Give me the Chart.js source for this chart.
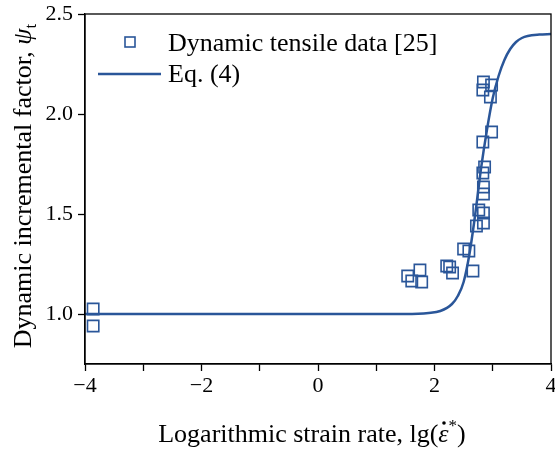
<!DOCTYPE html>
<html>
<head>
<meta charset="utf-8">
<script src="https://cdn.jsdelivr.net/npm/chart.js@4.4.0/dist/chart.umd.min.js"></script>
<style>
  html, body { margin: 0; padding: 0; background: #fff; }
  #wrap { width: 555px; height: 450px; }
</style>
</head>
<body>
<div id="wrap"><canvas id="chart" width="555" height="450"></canvas></div>
<script>
// Dynamic tensile data [25]
const dataX = [2.84, 2.98, 2.83, 2.96, 2.98, 2.83, 2.86, 2.83, 2.84, 2.84, 2.76, 2.84, 2.84,
               2.72, 2.50, 2.59, 2.66, 2.21, 2.26, 2.31, 1.54, 1.61, 1.75, 1.78, -3.86, -3.86];
const dataY = [2.16, 2.145, 2.12, 2.085, 1.91, 1.86, 1.735, 1.705, 1.635, 1.60, 1.52, 1.505, 1.455,
               1.44, 1.325, 1.315, 1.215, 1.24, 1.235, 1.205, 1.19, 1.165, 1.22, 1.16, 1.025, 0.94];

// Eq. (4) curve, sampled from the figure
const curveX = [-4, -2, 0, 1, 1.5, 1.9, 2.1, 2.3, 2.4, 2.5, 2.6, 2.7, 2.8, 2.9, 3.0, 3.1, 3.2, 3.3, 3.4, 3.5, 3.6, 3.8, 4];
const curveY = [1.0, 1.0, 1.0, 1.0, 1.0, 1.005, 1.015, 1.05, 1.09, 1.16, 1.3, 1.5, 1.73, 1.92, 2.08, 2.19, 2.27, 2.325, 2.36, 2.38, 2.39, 2.397, 2.4];

const xTicks = [-4, -3, -2, -1, 0, 1, 2, 3, 4];
const yTicks = [1.0, 1.5, 2.0, 2.5];

const BLUE = '#2a5699';
const FONT = '"Liberation Serif", "Times New Roman", serif';

// draw a run of text pieces with different fonts, centred on (cx, y)
function drawRuns(ctx, runs, cx, y) {
  let total = 0;
  runs.forEach(r => { ctx.font = r.font; r.w = ctx.measureText(r.text).width; total += r.w; });
  let x = cx - total / 2;
  runs.forEach(r => {
    ctx.font = r.font;
    ctx.fillText(r.text, x, y + (r.dy || 0));
    if (r.dot) {
      ctx.beginPath();
      ctx.arc(x + r.w * 0.55, y - 19, 1.8, 0, Math.PI * 2);
      ctx.fill();
    }
    x += r.w;
  });
}

const decorations = {
  id: 'decorations',
  afterDraw(chart) {
    const { ctx, chartArea: a } = chart;
    ctx.save();
    ctx.strokeStyle = '#000';
    ctx.lineWidth = 1.3;
    ctx.strokeRect(a.left, a.top, a.right - a.left, a.bottom - a.top);

    ctx.fillStyle = '#000';
    ctx.textBaseline = 'alphabetic';
    ctx.textAlign = 'left';

    // x axis title
    drawRuns(ctx, [
      { text: 'Logarithmic strain rate, lg(', font: '26px ' + FONT },
      { text: '\u03B5', font: 'italic 26px ' + FONT, dot: true },
      { text: '*', font: '17px ' + FONT, dy: -11 },
      { text: ')', font: '26px ' + FONT }
    ], 312, 442);

    // y axis title
    ctx.save();
    ctx.translate(31, 186);
    ctx.rotate(-Math.PI / 2);
    drawRuns(ctx, [
      { text: 'Dynamic incremental factor, ', font: '26px ' + FONT },
      { text: '\u03C8', font: 'italic 26px ' + FONT },
      { text: 't', font: '17px ' + FONT, dy: 5 }
    ], 0, 0);
    ctx.restore();

    // legend
    ctx.strokeStyle = BLUE;
    ctx.lineWidth = 1.6;
    ctx.strokeRect(125, 37, 10, 10);
    ctx.lineWidth = 2.5;
    ctx.beginPath();
    ctx.moveTo(98, 74);
    ctx.lineTo(161, 74);
    ctx.stroke();
    ctx.font = '26px ' + FONT;
    ctx.fillText('Dynamic tensile data [25]', 168, 51);
    ctx.fillText('Eq. (4)', 168, 82);
    ctx.restore();
  }
};

const fmt = v => (v < 0 ? '\u2212' + Math.abs(v) : String(v));

new Chart(document.getElementById('chart'), {
  type: 'scatter',
  data: {
    datasets: [
      {
        label: 'Eq. (4)',
        data: curveX.map((x, i) => ({ x: x, y: curveY[i] })),
        showLine: true,
        borderColor: BLUE,
        borderWidth: 2.5,
        pointRadius: 0,
        cubicInterpolationMode: 'monotone',
        order: 1
      },
      {
        label: 'Dynamic tensile data [25]',
        data: dataX.map((x, i) => ({ x: x, y: dataY[i] })),
        pointStyle: 'rect',
        pointRadius: 8,
        borderColor: BLUE,
        borderWidth: 1.6,
        backgroundColor: 'rgba(0,0,0,0)',
        order: 2
      }
    ]
  },
  options: {
    responsive: false,
    animation: false,
    devicePixelRatio: 1,
    layout: { autoPadding: false, padding: { top: 14, right: 4, left: 0, bottom: 0 } },
    plugins: { legend: { display: false }, tooltip: { enabled: false } },
    scales: {
      x: {
        type: 'linear',
        min: -4,
        max: 4,
        afterBuildTicks: s => { s.ticks = xTicks.map(v => ({ value: v })); },
        afterFit: s => { s.height = 86; s.paddingLeft = 0; s.paddingRight = 0; },
        ticks: {
          color: '#000',
          font: { family: FONT, size: 22 },
          padding: 2,
          maxRotation: 0,
          autoSkip: false,
          callback: v => (v % 2 === 0 ? fmt(v) : '')
        },
        grid: { drawOnChartArea: false, tickLength: 7, tickColor: '#000', tickWidth: 1.3 },
        border: { color: '#000', width: 1.3 }
      },
      y: {
        type: 'linear',
        min: 0.75,
        max: 2.5,
        afterBuildTicks: s => { s.ticks = yTicks.map(v => ({ value: v })); },
        afterFit: s => { s.width = 85; s.paddingTop = 0; s.paddingBottom = 0; },
        ticks: {
          color: '#000',
          font: { family: FONT, size: 22 },
          padding: 5,
          callback: v => v.toFixed(1)
        },
        grid: { drawOnChartArea: false, tickLength: 7, tickColor: '#000', tickWidth: 1.3 },
        border: { color: '#000', width: 1.3 }
      }
    }
  },
  plugins: [decorations]
});
</script>
</body>
</html>
